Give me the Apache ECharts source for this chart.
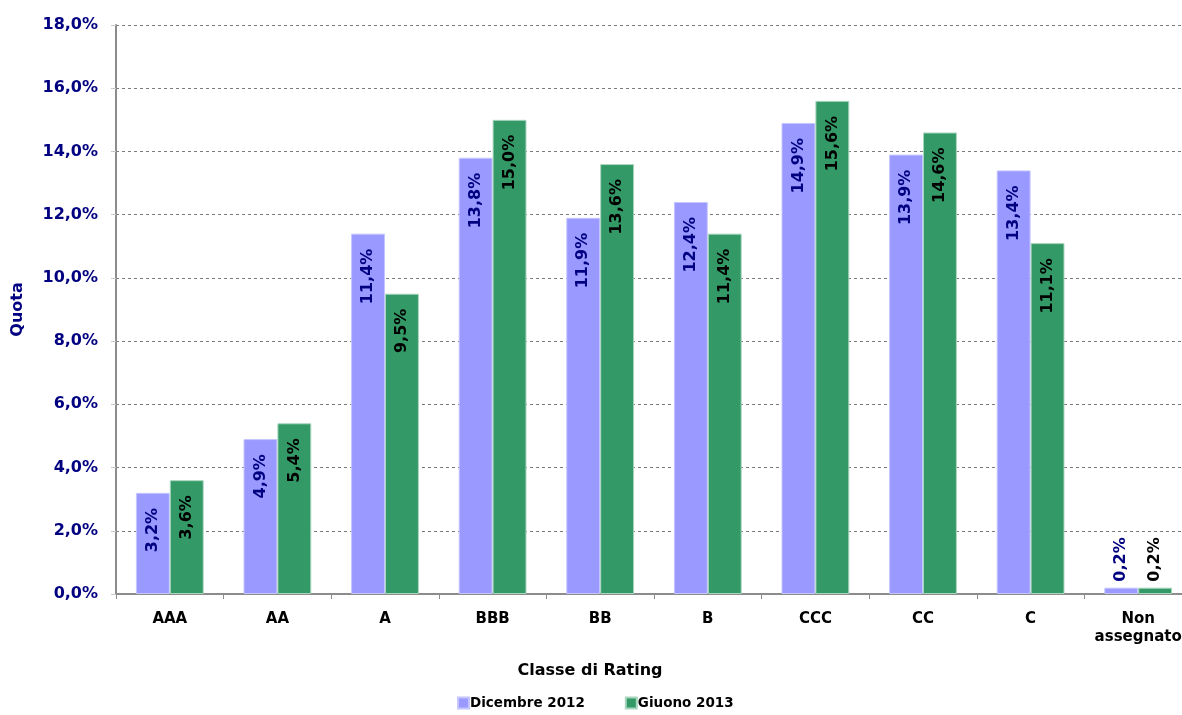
<!DOCTYPE html>
<html>
<head>
<meta charset="UTF-8">
<title>Classe di Rating</title>
<script src="https://cdn.jsdelivr.net/npm/echarts@6/dist/echarts.min.js"></script>
<style>
  html, body { margin: 0; padding: 0; background: #fff; overflow: hidden; }
</style>
</head>
<body>
<!-- il grafico originale esce un po' oltre il bordo destro -->
<div id="chart" style="width: 1192px;height:715px;"></div>
<script type="text/javascript">
    var categorie = ['AAA', 'AA', 'A', 'BBB', 'BB', 'B', 'CCC', 'CC', 'C', 'Non\nassegnato'];
    var dicembre2012 = [3.2, 4.9, 11.4, 13.8, 11.9, 12.4, 14.9, 13.9, 13.4, 0.2];
    var giugno2013 = [3.6, 5.4, 9.5, 15.0, 13.6, 11.4, 15.6, 14.6, 11.1, 0.2];
    var nomiSerie = ['Dicembre 2012', 'Giuono 2013'];

    var chart = echarts.init(document.getElementById('chart'));

    // formato italiano con la virgola
    function perc(v) {
        return v.toFixed(1).replace('.', ',') + '%';
    }

    // le barre troppo basse hanno l'etichetta sopra
    function punti(valori) {
        return valori.map(function (v) {
            if (v < 1) {
                return { value: v, label: { position: 'top', align: 'left', distance: 6 } };
            }
            return v;
        });
    }

    function etichetta(colore) {
        return {
            show: true,
            position: 'insideTop',
            rotate: 90,
            align: 'right',
            verticalAlign: 'middle',
            distance: 15,
            color: colore,
            fontFamily: 'DejaVu Sans',
            fontWeight: 'bold',
            fontSize: 16,
            formatter: function (p) { return perc(p.value); }
        };
    }

    var option = {
        animation: false,
        textStyle: { fontFamily: 'DejaVu Sans' },
        grid: { left: 116, right: 0, top: 25, bottom: 121 },
        legend: {
            bottom: 0,
            left: 452,
            itemWidth: 11,
            itemHeight: 11,
            itemGap: 40,
            icon: 'rect',
            textStyle: { color: '#000', fontSize: 13.5, fontWeight: 'bold', fontFamily: 'DejaVu Sans', padding: [0, 0, 0, -4] },
            data: nomiSerie
        },
        xAxis: {
            type: 'category',
            data: categorie,
            name: 'Classe di Rating',
            nameLocation: 'middle',
            nameGap: 69,
            nameTextStyle: { color: '#000', fontWeight: 'bold', fontSize: 16, padding: [0, 128, 0, 0] },
            axisLine: { lineStyle: { color: '#8c8c8c', width: 2 } },
            axisTick: { show: true, interval: 0, length: 5, lineStyle: { color: '#8c8c8c' } },
            axisLabel: { interval: 0, color: '#000', fontWeight: 'bold', fontSize: 15, margin: 16, lineHeight: 18 }
        },
        yAxis: {
            type: 'value',
            min: 0,
            max: 18,
            interval: 2,
            name: 'Quota',
            nameLocation: 'middle',
            nameGap: 90,
            nameRotate: 90,
            nameTextStyle: { color: '#000080', fontWeight: 'bold', fontSize: 16 },
            axisLine: { show: true, lineStyle: { color: '#8c8c8c', width: 2 } },
            axisTick: { show: true, length: 5, lineStyle: { color: '#c8c8c8' } },
            axisLabel: {
                color: '#000080',
                fontWeight: 'bold',
                fontSize: 16,
                margin: 18,
                formatter: function (v) { return perc(v); }
            },
            splitLine: { lineStyle: { color: '#7a7a7a', type: [3, 3] } }
        },
        series: [{
            name: nomiSerie[0],
            type: 'bar',
            data: punti(dicembre2012),
            barGap: '0%',
            barCategoryGap: '37%',
            itemStyle: { color: '#9999ff', borderColor: '#c6c6ff', borderWidth: 1 },
            label: etichetta('#000080')
        }, {
            name: nomiSerie[1],
            type: 'bar',
            data: punti(giugno2013),
            itemStyle: { color: '#339966', borderColor: '#a9d6bf', borderWidth: 1 },
            label: etichetta('#000')
        }]
    };
    chart.setOption(option);
</script>
</body>
</html>
